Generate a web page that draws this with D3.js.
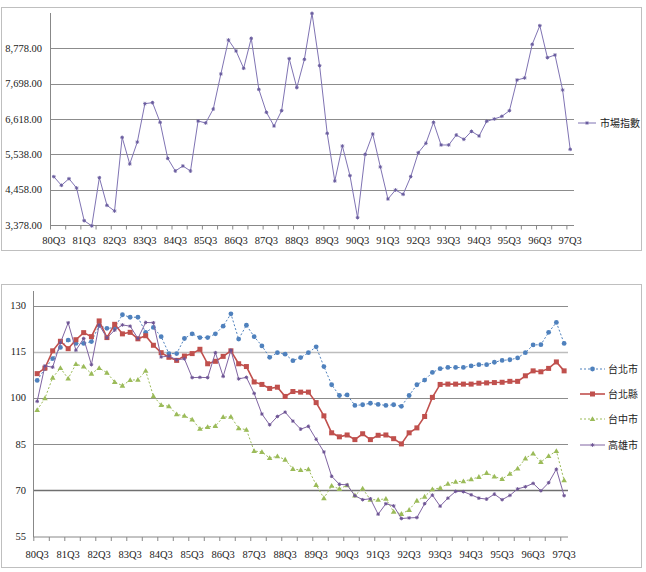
<!DOCTYPE html>
<html><head><meta charset="utf-8">
<script src="https://cdn.jsdelivr.net/npm/d3@7"></script>
<style>body{margin:0;background:#fff}svg{display:block}</style>
</head><body>
<svg id="c" width="646" height="572"></svg>
<script>
const quarters = ["80Q3","80Q4","81Q1","81Q2","81Q3","81Q4","82Q1","82Q2","82Q3","82Q4","83Q1","83Q2","83Q3","83Q4","84Q1","84Q2","84Q3","84Q4","85Q1","85Q2","85Q3","85Q4","86Q1","86Q2","86Q3","86Q4","87Q1","87Q2","87Q3","87Q4","88Q1","88Q2","88Q3","88Q4","89Q1","89Q2","89Q3","89Q4","90Q1","90Q2","90Q3","90Q4","91Q1","91Q2","91Q3","91Q4","92Q1","92Q2","92Q3","92Q4","93Q1","93Q2","93Q3","93Q4","94Q1","94Q2","94Q3","94Q4","95Q1","95Q2","95Q3","95Q4","96Q1","96Q2","96Q3","96Q4","97Q1","97Q2","97Q3"];
const xTickLabels = ["80Q3","81Q3","82Q3","83Q3","84Q3","85Q3","86Q3","87Q3","88Q3","89Q3","90Q3","91Q3","92Q3","93Q3","94Q3","95Q3","96Q3","97Q3"];

const marketIndex = [4856,4591,4794,4509,3510,3350,4825,3979,3806,6058,5243,5915,7087,7118,6517,5416,5029,5182,5029,6557,6496,6924,7994,9033,8697,8168,9085,7525,6822,6404,6873,8463,7576,8442,9849,8249,6180,4723,5793,4886,3602,5538,6160,5151,4173,4448,4315,4856,5589,5875,6517,5824,5824,6129,5997,6241,6099,6547,6618,6700,6873,7811,7872,8901,9472,8493,8575,7505,5691];
const topTicks = [3378,4458,5538,6618,7698,8778];

const taipeiCity = [105.7,109.5,112.8,116.4,118.8,117.7,117.7,118.3,123.5,122.6,122.8,127.0,126.2,126.2,121.3,122.9,119.9,114.4,114.4,119.3,120.8,119.6,119.6,120.8,123.3,127.3,119.1,123.6,119.9,116.9,113.2,114.7,114.2,112.1,113.1,114.7,116.6,110.2,104.3,100.8,101.0,97.6,97.8,98.3,97.9,97.6,97.8,97.3,100.8,104.3,105.8,108.3,109.5,109.9,109.9,109.9,110.4,110.8,110.8,111.6,112.2,112.4,113.0,114.7,117.2,117.3,121.3,124.5,117.7];
const taipeiCounty = [107.9,109.7,115.3,118.4,116.0,118.9,121.2,119.9,125.0,119.6,123.9,120.8,121.3,119.2,120.2,117.1,114.7,113.2,112.2,113.6,114.4,115.8,111.1,111.9,113.5,115.3,111.1,110.2,105.2,104.4,103.1,103.5,100.5,102.1,101.9,101.9,98.5,94.2,88.7,87.4,88.0,86.5,88.4,86.5,87.9,88.0,86.8,85.1,88.7,90.3,94.0,100.2,104.4,104.5,104.5,104.5,104.5,104.8,104.9,105.0,105.1,105.4,105.4,107.2,108.8,108.5,109.6,111.7,108.8];
const taichungCity = [96.1,99.9,106.6,109.7,106.3,111.0,110.2,107.9,109.7,108.2,105.2,104.0,105.8,105.9,108.8,100.6,97.7,97.3,94.7,94.2,93.0,90.0,90.6,90.9,93.8,93.9,90.2,89.7,82.8,82.5,80.5,81.1,80.0,77.0,76.6,76.9,71.8,67.5,71.5,70.5,71.7,68.4,70.6,67.0,67.0,67.3,63.1,62.4,63.7,66.7,68.0,70.4,70.8,72.2,72.8,73.0,73.6,74.4,75.7,74.5,73.7,75.4,77.1,80.4,82.0,79.2,81.2,82.8,73.3];
const kaohsiungCity = [98.9,110.4,110.0,117.9,124.4,115.5,119.3,110.8,123.7,119.5,122.0,123.7,123.3,119.3,124.5,124.4,113.3,113.6,112.4,112.7,106.6,106.7,106.6,114.7,107.0,115.5,106.2,106.7,101.5,94.8,91.3,94.0,95.4,92.5,89.9,90.8,86.6,82.5,74.6,72.0,71.8,68.3,67.0,67.3,62.3,65.7,65.0,60.9,61.1,61.2,65.7,68.5,64.9,67.5,69.7,69.6,68.6,67.5,67.2,68.8,67.0,68.4,70.5,71.2,72.3,69.9,72.5,76.9,68.3];
const bottomTicks = [55,70,85,100,115,130];

const seriesNames = ["台北市","台北縣","台中市","高雄市"];
const topSeriesName = "市場指數";

const svg = d3.select("#c");
const serif = "'Liberation Serif','Times New Roman',serif";
const cjk = "'Noto Sans CJK TC','Noto Sans CJK SC',sans-serif";

// frames
svg.append("rect").attr("x",1.5).attr("y",7.5).attr("width",640).attr("height",243).attr("fill","none").attr("stroke","#bfbfbf");
svg.append("rect").attr("x",1.5).attr("y",284.5).attr("width",640).attr("height",283).attr("fill","none").attr("stroke","#bfbfbf");

function starMarker(g, pts, color, s){
  g.selectAll(null).data(pts).enter().append("path")
    .attr("d", d => `M${d[0]-s},${d[1]}L${d[0]+s},${d[1]}M${d[0]},${d[1]-s}L${d[0]},${d[1]+s}M${d[0]-s*0.7},${d[1]-s*0.7}L${d[0]+s*0.7},${d[1]+s*0.7}M${d[0]-s*0.7},${d[1]+s*0.7}L${d[0]+s*0.7},${d[1]-s*0.7}`)
    .attr("stroke", color).attr("stroke-width",1).attr("fill","none");
}

function drawXAxis(g, x, yPos, labelY){
  const bw = x.bandwidth();
  const r = x.range();
  g.append("line").attr("x1",r[0]).attr("x2",r[1]).attr("y1",yPos).attr("y2",yPos).attr("stroke","#888");
  quarters.forEach((q,i)=>{
    if(i%2===0){
      g.append("line").attr("x1",x(q)+0.5).attr("x2",x(q)+0.5).attr("y1",yPos).attr("y2",yPos+4).attr("stroke","#888");
    }
  });
  g.selectAll(null).data(xTickLabels).enter().append("text")
    .attr("x", d => x(d)+bw/2).attr("y", labelY)
    .attr("text-anchor","middle").attr("font-family",serif).attr("font-size",10.5).attr("fill","#222")
    .text(d=>d);
}

// ---------- TOP CHART ----------
{
  const g = svg.append("g");
  const x = d3.scaleBand().domain(quarters).range([50,574]);
  const y = d3.scaleLinear().domain([3378,9858]).range([225,13]);
  const bw = x.bandwidth();
  topTicks.forEach(t=>{
    if(t>3378) g.append("line").attr("x1",50).attr("x2",574).attr("y1",Math.round(y(t))+0.5).attr("y2",Math.round(y(t))+0.5).attr("stroke","#8c8c8c");
    g.append("text").attr("x",42).attr("y",y(t)+3.5).attr("text-anchor","end")
      .attr("font-family",serif).attr("font-size",10.5).attr("fill","#222").text(d3.format(",.2f")(t));
  });
  g.append("line").attr("x1",50.5).attr("x2",50.5).attr("y1",13).attr("y2",225).attr("stroke","#888");
  drawXAxis(g, x, 225.5, 244);
  const pts = marketIndex.map((v,i)=>[x(quarters[i])+bw/2, y(v)]);
  g.append("path").attr("d", d3.line()(pts)).attr("fill","none").attr("stroke","#7f73b3").attr("stroke-width",1);
  starMarker(g, pts, "#6a5d9f", 1.8);
  // legend
  g.append("line").attr("x1",578).attr("x2",596).attr("y1",123).attr("y2",123).attr("stroke","#7f73b3");
  starMarker(g, [[587,123]], "#6a5d9f", 1.8);
  g.append("text").attr("x",600).attr("y",127).attr("font-family",cjk).attr("font-size",10).attr("fill","#222").text(topSeriesName);
}

// ---------- BOTTOM CHART ----------
{
  const g = svg.append("g");
  const x = d3.scaleBand().domain(quarters).range([33.3,568]);
  const y = d3.scaleLinear().domain([55,135]).range([536.7,290.1]);
  const bw = x.bandwidth();
  bottomTicks.forEach(t=>{
    if(t>55){
      const dark = t===70;
      g.append("line").attr("x1",33).attr("x2",568).attr("y1",Math.round(y(t))+0.5).attr("y2",Math.round(y(t))+0.5)
        .attr("stroke", dark?"#6f6f6f":(t===115?"#bdbdbd":"#8c8c8c")).attr("stroke-width", (dark||t===115)?1.6:1);
    }
    g.append("text").attr("x",26).attr("y",y(t)+3.5).attr("text-anchor","end")
      .attr("font-family",serif).attr("font-size",10.5).attr("fill","#222").text(t);
  });
  g.append("line").attr("x1",33.5).attr("x2",33.5).attr("y1",291).attr("y2",537).attr("stroke","#888");
  drawXAxis(g, x, 537, 558);

  const series = [
    {name:seriesNames[0], data:taipeiCity, color:"#4f81bd", dash:"2,2", w:1, marker:"circle"},
    {name:seriesNames[1], data:taipeiCounty, color:"#c0504d", dash:null, w:1.6, marker:"square"},
    {name:seriesNames[2], data:taichungCity, color:"#9bbb59", dash:"2,2", w:1, marker:"triangle"},
    {name:seriesNames[3], data:kaohsiungCity, color:"#8064a2", dash:null, w:1, marker:"star"}
  ];
  function drawMarkers(gg, pts, s){
    if(s.marker==="circle"){
      gg.selectAll(null).data(pts).enter().append("circle").attr("cx",d=>d[0]).attr("cy",d=>d[1]).attr("r",2.4).attr("fill",s.color);
    } else if(s.marker==="square"){
      gg.selectAll(null).data(pts).enter().append("rect").attr("x",d=>d[0]-2.5).attr("y",d=>d[1]-2.5).attr("width",5).attr("height",5).attr("fill",s.color);
    } else if(s.marker==="triangle"){
      gg.selectAll(null).data(pts).enter().append("path").attr("d",d=>`M${d[0]},${d[1]-2.8}L${d[0]+2.8},${d[1]+2}L${d[0]-2.8},${d[1]+2}Z`).attr("fill",s.color);
    } else {
      starMarker(gg, pts, "#6d5494", 1.8);
    }
  }
  series.forEach((s,k)=>{
    const pts = s.data.map((v,i)=>[x(quarters[i])+bw/2, y(v)]);
    const p = g.append("path").attr("d", d3.line()(pts)).attr("fill","none").attr("stroke",s.color).attr("stroke-width",s.w);
    if(s.dash) p.attr("stroke-dasharray",s.dash);
    drawMarkers(g, pts, s);
    const ly = [369,394,419,445][k];
    const l = g.append("line").attr("x1",580).attr("x2",605).attr("y1",ly).attr("y2",ly).attr("stroke",s.color).attr("stroke-width",s.w);
    if(s.dash) l.attr("stroke-dasharray",s.dash);
    drawMarkers(g, [[592.5,ly]], s);
    g.append("text").attr("x",608).attr("y",ly+4).attr("font-family",cjk).attr("font-size",10).attr("fill","#222").text(s.name);
  });
}
</script>
</body></html>
